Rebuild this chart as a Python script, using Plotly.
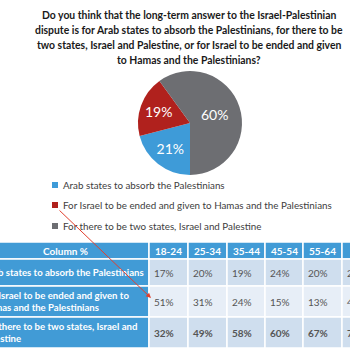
import plotly.graph_objects as go

# ---------------- data ----------------
title_lines = [
    "Do you think that the long-term answer to the Israel-Palestinian",
    "dispute is for Arab states to absorb the Palestinians, for there to be",
    "two states, Israel and Palestine, or for Israel to be ended and given",
    "to Hamas and the Palestinians?",
]
categories = [
    "Arab states to absorb the Palestinians",
    "For Israel to be ended and given to Hamas and the Palestinians",
    "For there to be two states, Israel and Palestine",
]
overall_pct = [21, 19, 60]
row_labels = [
    "Arab states to absorb the Palestinians",
    "For Israel to be ended and given to<br>Hamas and the Palestinians",
    "For there to be two states, Israel and<br>Palestine",
]
header_first = "Column %"
age_groups = ["18-24", "25-34", "35-44", "45-54", "55-64", "65+"]
arab_states = [17, 20, 19, 24, 20, 25]
israel_ended = [51, 31, 24, 15, 13, 4]
two_states = [32, 49, 58, 60, 67, 71]
table_rows = [arab_states, israel_ended, two_states]

# ---------------- styles ----------------
W = H = 350
FONT = "Lato"
slice_colors = ["#3e9bd8", "#b0211d", "#6d6e72"]
hdr_blue = "#419bd6"
light1 = "#cfdeee"
light2 = "#e7eef7"
row_fills = [light1, light2, light1]
text_gray = "#555555"

col_edges = [-250, 149, 188, 227, 265, 303, 342, 381]
row_edges = [242, 259, 286, 317, 348]

fig = go.Figure()

# pie
cx, cy, r = 190, 123, 52
fig.add_trace(go.Pie(
    labels=categories, values=overall_pct,
    marker=dict(colors=slice_colors, line=dict(width=0)),
    sort=False, direction="clockwise", rotation=180,
    texttemplate="%{value}%", textposition="inside",
    insidetextorientation="horizontal",
    textfont=dict(family=FONT, size=14, color="white"),
    showlegend=False, hoverinfo="skip",
    domain=dict(x=[(cx - r) / W, (cx + r) / W], y=[1 - (cy + r) / H, 1 - (cy - r) / H]),
))

# legend (manual)
leg_y = [185, 205, 226]
fig.add_trace(go.Scatter(
    x=[55] * 3, y=leg_y, mode="markers",
    marker=dict(symbol="square", size=6, color=slice_colors),
    showlegend=False, hoverinfo="skip", cliponaxis=False,
))

annotations = []
for i, t in enumerate(title_lines):
    annotations.append(dict(x=189, y=14.5 + 15 * i, xref="x", yref="y", text="<b>" + t + "</b>",
                            showarrow=False, xanchor="center", yanchor="middle",
                            font=dict(family=FONT, size=10.4, color="#1a1a1a")))
for i, c in enumerate(categories):
    annotations.append(dict(x=61, y=leg_y[i], xref="x", yref="y", text=c, showarrow=False,
                            xanchor="left", yanchor="middle",
                            font=dict(family=FONT, size=9.8, color="#404040")))

shapes = []
# header row
for c in range(len(col_edges) - 1):
    shapes.append(dict(type="rect", xref="x", yref="y", x0=col_edges[c], x1=col_edges[c + 1],
                       y0=row_edges[0], y1=row_edges[1], fillcolor=hdr_blue,
                       line=dict(color="white", width=1.5), layer="below"))
annotations.append(dict(x=65, y=(row_edges[0] + row_edges[1]) / 2, xref="x", yref="y",
                        text="<b>" + header_first + "</b>", showarrow=False,
                        font=dict(family=FONT, size=10, color="white")))
for j, g in enumerate(age_groups):
    annotations.append(dict(x=(col_edges[j + 1] + col_edges[j + 2]) / 2,
                            y=(row_edges[0] + row_edges[1]) / 2, xref="x", yref="y",
                            text="<b>" + g + "</b>", showarrow=False,
                            font=dict(family=FONT, size=10, color="white")))
# body rows
for rI, vals in enumerate(table_rows):
    y0, y1 = row_edges[rI + 1], row_edges[rI + 2]
    ym = (y0 + y1) / 2
    shapes.append(dict(type="rect", xref="x", yref="y", x0=col_edges[0], x1=col_edges[1],
                       y0=y0, y1=y1, fillcolor=hdr_blue,
                       line=dict(color="white", width=1.5), layer="below"))
    annotations.append(dict(x=0, xshift=-20, y=ym, xref="x", yref="y",
                            text="<b>" + row_labels[rI] + "</b>", showarrow=False,
                            xanchor="left", align="left", yanchor="middle",
                            font=dict(family=FONT, size=9.6, color="white")))
    for j, v in enumerate(vals):
        shapes.append(dict(type="rect", xref="x", yref="y", x0=col_edges[j + 1], x1=col_edges[j + 2],
                           y0=y0, y1=y1, fillcolor=row_fills[rI],
                           line=dict(color="white", width=1.5), layer="below"))
        txt = f"{v}%"
        if rI == 2:
            txt = "<b>" + txt + "</b>"
        annotations.append(dict(x=col_edges[j + 1] + 2.5, y=ym, xref="x", yref="y", text=txt,
                                showarrow=False, xanchor="left", yanchor="middle",
                                font=dict(family=FONT, size=10, color=text_gray)))

# red arrow from legend to 51% cell
annotations.append(dict(x=151, y=298, ax=58, ay=209, xref="x", yref="y", axref="x", ayref="y",
                        text="", showarrow=True, arrowhead=2, arrowsize=1, arrowwidth=1,
                        arrowcolor="#e2402e"))

fig.update_layout(
    width=W, height=H, margin=dict(l=0, r=0, t=0, b=0),
    paper_bgcolor="white", plot_bgcolor="white",
    xaxis=dict(range=[0, W], visible=False, fixedrange=True, domain=[0, 1]),
    yaxis=dict(range=[H, 0], visible=False, fixedrange=True, domain=[0, 1]),
    shapes=shapes, annotations=annotations,
    font=dict(family=FONT),
)
fig.write_html("out.html")
